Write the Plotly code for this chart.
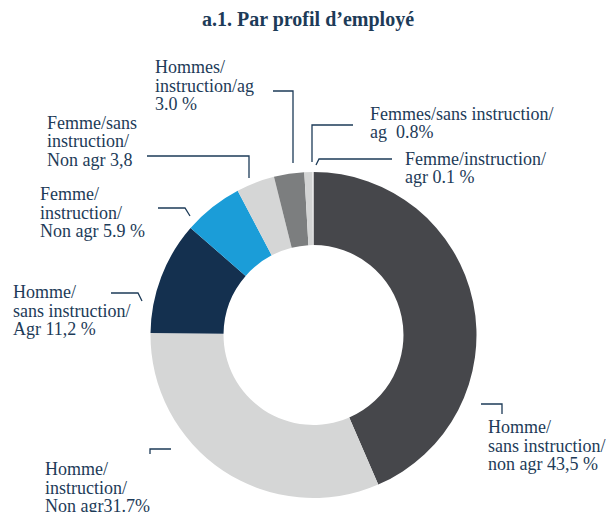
import plotly.graph_objects as go

# Employee profile shares (%), clockwise from 12 o'clock
profiles = [
    "Homme/sans instruction/non agr",
    "Homme/instruction/Non agr",
    "Homme/sans instruction/Agr",
    "Femme/instruction/Non agr",
    "Femme/sans instruction/Non agr",
    "Hommes/instruction/ag",
    "Femmes/sans instruction/ag",
    "Femme/instruction/agr",
]
shares = [43.5, 31.7, 11.2, 5.9, 3.8, 3.0, 0.8, 0.1]
slice_colors = ["#46474b", "#d5d6d6", "#14304f", "#1b9dd8",
                "#d5d6d6", "#7c7e7f", "#d3d4d4", "#ececec"]

# Label text lines, one list per slice (same order as above)
label_lines = [
    ["Homme/", "sans instruction/", "non agr 43,5 %"],
    ["Homme/", "instruction/", "Non agr31.7%"],
    ["Homme/", "sans instruction/", "Agr 11,2 %"],
    ["Femme/", "instruction/", "Non agr 5.9 %"],
    ["Femme/sans", "instruction/", "Non agr 3,8"],
    ["Hommes/", "instruction/ag", "3.0 %"],
    ["Femmes/sans instruction/", "ag  0.8%"],
    ["Femme/instruction/", "agr 0.1 %"],
]

W, H = 614, 512
TEXT = "#1d3b58"
FONT = "Liberation Serif"

# Label placement (left x, first-line y, in pixels) and leader-line paths
label_pos = [(486, 427), (43, 469), (11, 292), (38, 194),
             (45, 122.5), (153, 67), (368, 113.5), (403, 158.5)]
line_gap = 18.5
leaders = [
    [(481, 404), (502, 404), (502, 414)],
    [(171, 449), (150, 449), (150, 454)],
    [(111, 293), (138, 293), (142, 301)],
    [(158, 208), (185, 208), (190, 216)],
    [(147, 156), (249, 156), (249, 178)],
    [(273, 91), (293, 91), (293, 163)],
    [(353, 125), (312, 125), (312, 162)],
    [(392, 159), (319, 159), (316, 165)],
]


def px(x):
    return x / W


def py(y):
    return 1 - y / H


# Donut placement in pixels
cx, cy, R = 313.5, 335, 163

fig = go.Figure(go.Pie(
    labels=profiles,
    values=shares,
    sort=False,
    direction="clockwise",
    rotation=0,
    hole=0.552,
    marker=dict(colors=slice_colors, line=dict(width=0)),
    textinfo="none",
    hoverinfo="label+percent",
    domain=dict(x=[px(cx - R), px(cx + R)], y=[py(cy + R), py(cy - R)]),
))

annotations = [dict(
    text="<b>a.1. Par profil d’employé</b>",
    x=px(308), y=py(19), xref="paper", yref="paper",
    xanchor="center", yanchor="middle", showarrow=False,
    font=dict(family=FONT, size=20, color=TEXT),
)]
for (lx, ly), lines in zip(label_pos, label_lines):
    for i, t in enumerate(lines):
        annotations.append(dict(
            text=t, x=px(lx), y=py(ly + i * line_gap),
            xref="paper", yref="paper", xanchor="left", yanchor="middle",
            showarrow=False, font=dict(family=FONT, size=18, color=TEXT),
        ))

shapes = []
for pts in leaders:
    path = "M " + " L ".join(f"{px(x):.5f},{py(y):.5f}" for x, y in pts)
    shapes.append(dict(type="path", path=path, xref="paper", yref="paper",
                       line=dict(color=TEXT, width=1.3)))

fig.update_layout(
    width=W, height=H,
    margin=dict(l=0, r=0, t=0, b=0),
    paper_bgcolor="white", plot_bgcolor="white",
    showlegend=False,
    annotations=annotations,
    shapes=shapes,
)

fig.write_html("out.html")
